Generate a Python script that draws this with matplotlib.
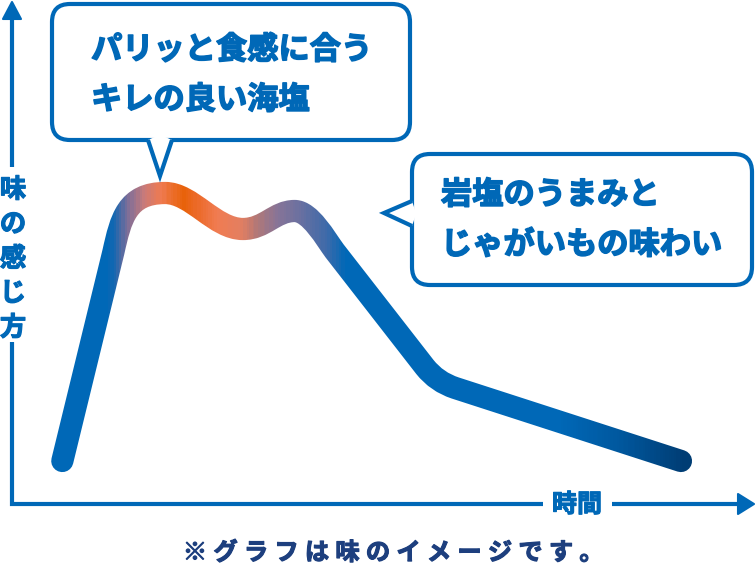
import numpy as np
import matplotlib
matplotlib.use("Agg")
import matplotlib.pyplot as plt
import matplotlib.patheffects as pe
from matplotlib.path import Path
from matplotlib.patches import PathPatch, Rectangle, FancyBboxPatch, Polygon
from matplotlib.colors import LinearSegmentedColormap

plt.rcParams['font.family'] = ['Noto Sans CJK JP', 'DejaVu Sans']

BLUE = '#0068b7'
NAVY = '#1d3f7e'

# ---- data -------------------------------------------------------------------
# taste curve: time (0-100) vs. taste (0-100), as a Bezier path
time = [6.8, 13.7, 14.7, 15.5, 20.7, 24.3, 27.4, 31.2, 34.2, 35.5, 38.2,
        40.3, 42.4, 43.6, 55.8, 57.4, 59.9, 90.4]
taste = [8.6, 50.4, 57.0, 62.2, 62.2, 62.2, 55.0, 55.0, 55.0, 58.6, 58.6,
         58.6, 53.0, 50.6, 27.4, 24.4, 23.2, 8.6]
codes = ([Path.MOVETO, Path.LINETO] + [Path.CURVE4] * 12
         + [Path.LINETO, Path.CURVE3, Path.CURVE3, Path.LINETO])

# colour of the line along the time axis
grad_time = [0, 12.6, 13.6, 15.5, 17.7, 20.0, 23.1, 25.0, 27.7, 30.8, 33.1,
             35.8, 38.9, 42.6, 45.0, 74.0, 82.0, 91.0, 100]
grad_color = ['#0068b7', '#0068b7', '#1466b0', '#7a6e9a', '#c87a7a', '#ef7a50',
              '#e8620a', '#ec6a2a', '#f07c52', '#e47e60', '#b07878', '#877497',
              '#6a70a0', '#3c6aaa', '#0068b7', '#0068b7', '#00589f', '#003d74',
              '#003d74']

ylabel = '味の感じ方'
xlabel = '時間'
bubble1 = ['パリッと食感に合う', 'キレの良い海塩']
bubble2 = ['岩塩のうまみと', 'じゃがいもの味わい']
note = '※グラフは味のイメージです。'

# ---- figure -----------------------------------------------------------------
fig = plt.figure(figsize=(7.56, 5.72), dpi=100)
fig.patch.set_facecolor('white')

ax = fig.add_axes([12 / 756, 68 / 572, 740 / 756, 500 / 572])
ax.set_xlim(0, 100)
ax.set_ylim(0, 100)
ax.axis('off')

cmap = LinearSegmentedColormap.from_list(
    'taste', list(zip(np.array(grad_time) / 100, grad_color)))
path = Path(np.column_stack([time, taste]), codes)

# draw the line in thin vertical strips to get a gradient along x
edges = np.linspace(0, 100, 401)
for x0, x1 in zip(edges[:-1], edges[1:]):
    patch = PathPatch(path, fill=False, lw=16, edgecolor=cmap((x0 + x1) / 200),
                      capstyle='round', joinstyle='round')
    ax.add_patch(patch)
    patch.set_clip_path(Rectangle((x0, -20), x1 - x0, 140, transform=ax.transData))

# overlay in pixel units for the arrows, bubbles and labels
ov = fig.add_axes([0, 0, 1, 1])
ov.set_xlim(0, 756)
ov.set_ylim(572, 0)
ov.axis('off')

bold = [pe.withStroke(linewidth=1.1, foreground=BLUE)]
bold_small = [pe.withStroke(linewidth=0.8, foreground=BLUE)]

# axes arrows
ov.plot([12, 12], [15, 167], color=BLUE, lw=3, solid_capstyle='butt')
ov.plot([12, 12, 543], [342, 504, 504], color=BLUE, lw=3,
        solid_capstyle='butt', solid_joinstyle='miter')
ov.plot([612, 740], [504, 504], color=BLUE, lw=3, solid_capstyle='butt')
ov.add_patch(Polygon([(3, 19), (21, 19), (12, 2)], closed=True, fc=BLUE, ec=BLUE,
                     lw=1.5, joinstyle='round'))
ov.add_patch(Polygon([(738, 494), (738, 514), (754, 504)], closed=True, fc=BLUE,
                     ec=BLUE, lw=1.5, joinstyle='round'))

for i, ch in enumerate(ylabel):
    ov.text(13, 190 + i * 34.5, ch, ha='center', va='center', fontsize=19,
            fontweight='bold', color=BLUE, path_effects=bold_small)
ov.text(577, 505, xlabel, ha='center', va='center', fontsize=18,
        fontweight='bold', color=BLUE, path_effects=bold_small)


def bubble(x, y, w, h, tail):
    ov.add_patch(FancyBboxPatch((x, y), w, h, boxstyle='round,pad=0,rounding_size=18',
                                fc='white', ec=BLUE, lw=3))
    (ax_, ay_), tip, (bx_, by_) = tail
    # cover the border under the tail, then draw the two tail edges
    cx = (ax_ + bx_) / 2
    cy = (ay_ + by_) / 2
    inner = (cx + (cx - tip[0]) * 0.15, cy + (cy - tip[1]) * 0.15)
    ov.add_patch(Polygon([(ax_, ay_), tip, (bx_, by_), inner], closed=True,
                         fc='white', ec='none', zorder=3))
    ov.plot([ax_, tip[0], bx_], [ay_, tip[1], by_], color=BLUE, lw=3,
            solid_joinstyle='miter', solid_capstyle='butt', zorder=4)


bubble(52, 4, 358, 136, [(148, 140), (160, 176), (172, 140)])
bubble(412, 154, 340, 131, [(412, 201), (384, 213), (412, 226)])

for i, line in enumerate(bubble1):
    ov.text(91, 50 + i * 50, line, ha='left', va='center', fontsize=22.5,
            fontweight='bold', color=BLUE, zorder=5, path_effects=bold)
for i, line in enumerate(bubble2):
    ov.text(441, 195 + i * 50, line, ha='left', va='center', fontsize=22.5,
            fontweight='bold', color=BLUE, zorder=5, path_effects=bold)

for i, ch in enumerate(note):
    ov.text(195 + i * 30.5, 553, ch, ha='center', va='center', fontsize=17.5,
            fontweight='bold', color=NAVY,
            path_effects=[pe.withStroke(linewidth=0.8, foreground=NAVY)])

fig.savefig('out.png', dpi=100)
